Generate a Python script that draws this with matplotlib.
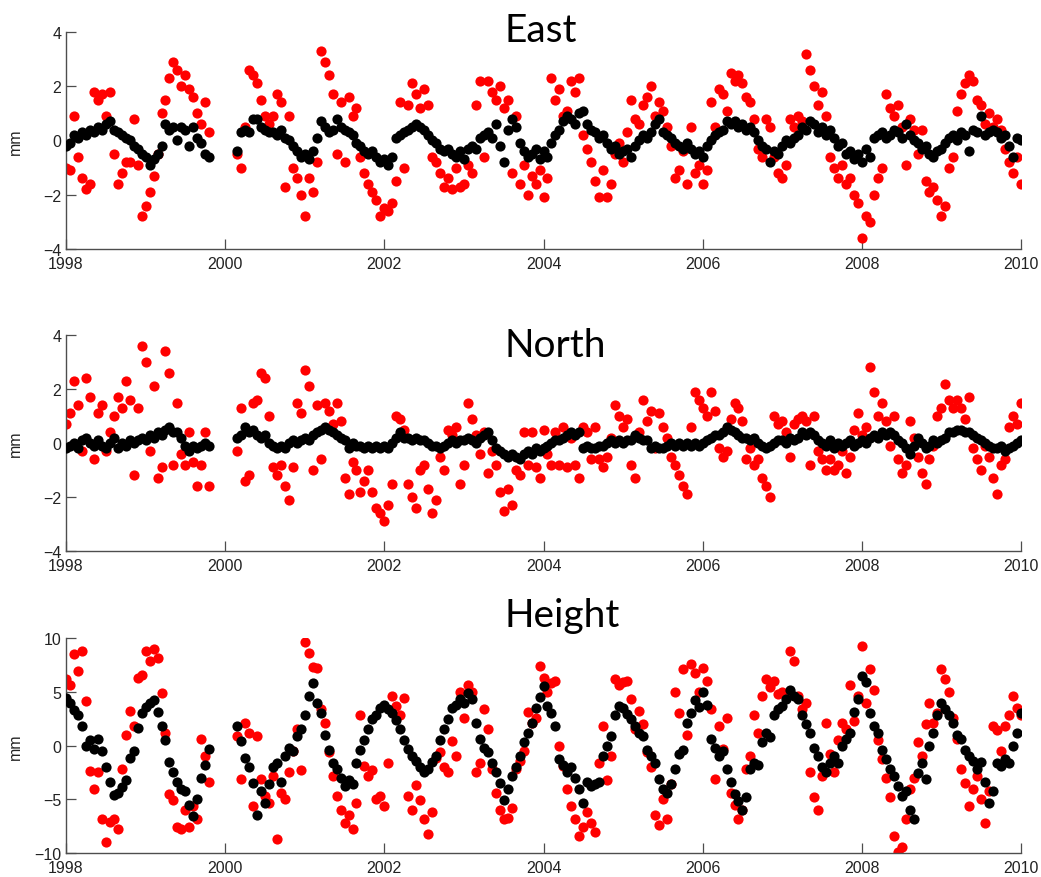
import matplotlib
matplotlib.use("Agg")
import matplotlib.pyplot as plt
import numpy as np

# sampling epochs in decimal years (no data between late 1999 and early 2000)
seg_a = np.round(np.arange(1998.00, 1999.80 + 1e-6, 0.05), 2)   # 37 epochs
seg_b = np.round(np.arange(2000.15, 2010.00 + 1e-6, 0.05), 2)   # 198 epochs
t = np.concatenate([seg_a, seg_b])

# ---------------- East (mm) ----------------
east_red = [
    -1.0, -1.1, 0.9, -0.6, -1.4, -1.8, -1.6, 1.8, 1.5, 1.7, 0.9, 1.8, -0.5, -1.6, -1.2, -0.8, -0.8, 0.8, -0.9, -2.8,
    -2.4, -1.9, -1.3, -0.5, 1.0, 1.5, 2.3, 2.9, 2.6, 2.0, 2.4, 1.9, 1.6, 1.0, 0.6, 1.4, 0.3,
    # 2000.15 ->
    -0.5, -1.0, 0.5, 2.6, 2.4, 2.1, 1.5, 0.9, 0.6, 0.9, 1.7, 1.4, -1.7, 0.9, -1.0, -1.4, -2.0,
    -2.8, -1.4, -1.9, -0.8, 3.3, 2.9, 2.4, 1.7, -0.5, 1.4, -0.8, 1.6, 0.9, 1.2, -0.6, -1.2, -1.6, -1.9, -2.2, -2.8,
    -2.5, -2.6, -2.3, -1.5, 1.4, -1.0, 1.3, 2.1, 1.7, 1.2, 1.9, 1.3, -0.6, -0.8, -1.2, -1.7, -1.4, -1.8, -1.0, -1.7,
    -1.6, -0.9, -1.2, 1.3, 2.2, -0.6, 2.2, 1.8, 1.5, 2.0, 1.2, 1.5, -1.2, 0.9, -1.6, -0.9, -2.0, -1.3, -1.6, -1.1,
    -2.1, -1.4, 2.3, 1.5, 1.9, 0.9, 1.1, 2.2, 1.8, 2.3, 0.2, -0.3, -0.8, -1.5, -2.1, -1.1, -2.1, -1.6, -0.5, -0.1,
    -0.8, 0.3, 1.5, 0.8, 0.6, 1.3, 1.6, 2.0, 0.9, 1.4, 1.1, 0.5, -0.2, -1.4, -1.1, -0.4, -1.6, 0.5, -1.2, -0.9,
    -1.6, -1.1, 1.4, 0.5, 1.9, 1.7, 1.1, 2.5, 2.2, 2.4, 2.1, 1.6, 1.4, 0.8, -0.3, -0.6, 0.8, 0.5, -0.6, -1.2,
    -1.4, -0.9, 0.8, 0.5, 0.9, 0.7, 3.2, 2.6, 2.0, 1.3, 1.8, 0.9, -0.6, -1.0, -1.4, -0.9, -1.6, -1.4, -2.0, -2.3,
    -3.6, -2.8, -3.0, -2.0, -1.4, -1.0, 1.7, 1.2, 0.9, 1.3, 0.5, -0.9, 0.8, 0.4, -0.5, 0.4, -1.5, -1.9, -1.7, -2.2,
    -2.8, -2.4, -1.0, -0.6, 1.1, 1.7, 2.1, 2.4, 2.2, 1.5, 1.3, 0.6, 1.0, 0.5, 0.8, 0.4, -0.3, -0.8, -1.2, -0.6,
    -1.6,
]
east_black = [
    -0.2, -0.1, 0.2, 0.1, 0.3, 0.2, 0.4, 0.3, 0.5, 0.4, 0.6, 0.7, 0.4, 0.3, 0.2, 0.1, 0.0, -0.2, -0.3, -0.5,
    -0.6, -0.9, -0.7, -0.5, -0.2, 0.6, 0.4, 0.5, 0.0, 0.5, 0.4, -0.2, 0.5, 0.1, -0.1, -0.5, -0.6,
    # 2000.15 ->
    -0.4, 0.3, 0.4, 0.3, 0.8, 0.8, 0.5, 0.4, 0.3, 0.3, 0.2, 0.4, 0.1, 0.0, -0.2, -0.4, -0.6,
    -0.5, -0.7, -0.4, 0.1, 0.7, 0.5, 0.3, 0.4, 0.8, 0.5, 0.4, 0.3, 0.2, -0.1, -0.2, -0.4, -0.5, -0.4, -0.6, -0.8,
    -0.7, -0.9, -0.6, 0.1, 0.2, 0.3, 0.4, 0.5, 0.6, 0.5, 0.4, 0.2, 0.0, -0.1, -0.3, -0.4, -0.3, -0.5, -0.6, -0.4,
    -0.7, -0.3, -0.2, -0.3, 0.1, 0.2, 0.3, 0.1, 0.6, -0.2, -0.8, 0.4, 0.8, 0.5, -0.1, -0.4, -0.6, -0.5, -0.3, -0.7,
    -0.4, -0.6, -0.1, 0.2, 0.4, 0.7, 0.9, 0.8, 0.6, 1.0, 1.1, 0.6, 0.4, 0.3, 0.1, 0.2, -0.1, -0.3, -0.2, -0.5,
    -0.4, -0.3, -0.6, -0.2, 0.0, 0.2, 0.1, 0.3, 0.6, 0.8, 0.3, 0.2, 0.1, -0.1, -0.2, -0.3, -0.1, -0.3, -0.5, -0.4,
    -0.6, -0.2, 0.0, 0.2, 0.3, 0.4, 0.7, 0.6, 0.7, 0.5, 0.6, 0.4, 0.5, 0.3, 0.0, -0.2, -0.3, -0.8, -0.4, -0.5,
    -0.2, 0.0, -0.1, 0.1, 0.2, 0.5, 0.4, 0.7, 0.6, 0.3, 0.5, 0.2, 0.4, 0.1, -0.2, -0.1, -0.5, -0.4, -0.7, -0.5,
    -0.8, -0.3, -0.6, 0.1, 0.2, 0.3, 0.1, 0.2, 0.4, 0.3, 0.1, 0.6, 0.2, 0.0, -0.1, -0.3, -0.2, -0.5, -0.6, -0.4,
    -0.3, -0.1, 0.1, 0.2, 0.0, 0.3, 0.2, -0.4, 0.4, 0.3, 0.9, 0.2, 0.3, 0.4, 0.3, 0.1, 0.2, -0.2, -0.6, 0.1,
    0.0,
]

# ---------------- North (mm) ----------------
north_red = [
    0.7, 1.1, 2.3, 1.4, -0.3, 2.4, 1.7, -0.6, 1.1, 1.4, -0.3, 0.4, 1.0, 1.7, 1.3, 2.3, 1.6, -1.2, 1.3, 3.6,
    3.0, -0.3, 2.1, -1.3, -0.9, 3.4, 2.6, -0.8, 1.5, -0.4, -0.8, 0.4, -0.7, -1.6, -0.8, 0.4, -1.6,
    # 2000.15 ->
    -0.3, 1.3, -1.4, -1.2, 1.5, 1.6, 2.6, 2.4, 1.0, -0.9, -1.2, -0.8, -1.6, -2.1, -0.9, 1.5, 1.1,
    2.7, 2.1, -1.0, 1.4, -0.6, 1.5, 1.2, 0.7, 1.5, 0.8, -1.3, -1.9, -0.7, -1.0, -1.8, -1.4, -1.0, -1.8, -2.4, -2.6,
    -2.9, -2.3, -1.5, 1.0, 0.9, 0.5, -1.5, -2.0, -2.4, -1.0, -0.8, -1.7, -2.6, -2.1, -0.5, -1.0, 0.5, 0.3, 0.6, -1.5,
    -0.8, 1.5, 0.9, 0.3, -0.4, 0.4, -1.1, -0.3, -0.8, -1.8, -2.5, -1.7, -2.3, -1.0, -1.2, 0.4, -0.8, 0.4, -0.9, -1.3,
    0.5, -0.4, -0.8, 0.4, -0.8, 0.6, -0.9, 0.2, -0.8, -1.3, 0.6, 0.4, -0.6, 0.6, -0.6, -0.9, -0.5, 0.2, 1.4, 1.0,
    0.6, 0.9, -0.8, -1.3, 0.4, 1.6, 0.8, 1.2, -0.2, 1.1, 0.6, 0.2, -0.5, -0.8, -1.2, -1.6, -1.9, 0.6, 1.9, 1.6,
    1.3, 1.0, 1.9, 1.2, -0.2, -0.5, -0.3, 0.9, 1.5, 1.3, 0.8, -0.6, -0.2, -0.8, -0.6, -1.3, -1.6, -2.0, 1.0, 0.7,
    0.8, 0.4, -0.5, 0.7, 0.9, 1.0, 0.8, -0.8, 1.0, -0.3, -0.6, -1.0, -0.6, -1.0, -0.8, -0.3, -1.1, -0.5, 0.5, 1.1,
    0.3, 0.6, 2.8, 1.9, 1.0, 1.5, 0.8, -0.1, 1.0, -0.6, -1.1, -0.8, 0.8, 0.2, -0.5, -1.1, -1.5, -0.6, -0.1, 1.0,
    1.3, 2.2, 1.6, 1.3, 1.6, 1.3, 0.9, 1.7, -0.2, -0.6, -1.0, -0.1, -0.5, -1.3, -1.9, -0.8, -0.6, 0.6, 1.0, 0.7,
    1.5,
]
north_black = [
    -0.2, -0.1, 0.0, -0.2, 0.1, 0.2, 0.0, -0.1, 0.1, -0.1, -0.2, 0.0, 0.2, -0.2, 0.0, -0.1, 0.1, 0.0, 0.1, 0.2,
    0.1, 0.3, 0.2, 0.4, 0.3, 0.5, 0.6, 0.4, 0.4, 0.2, -0.1, -0.3, -0.1, -0.2, -0.1, 0.0, -0.1,
    # 2000.15 ->
    0.2, 0.3, 0.6, 0.4, 0.5, 0.3, 0.2, 0.3, 0.0, -0.1, -0.2, -0.1, -0.2, 0.0, 0.1, 0.0, 0.1,
    0.2, 0.1, 0.3, 0.4, 0.5, 0.6, 0.5, 0.4, 0.3, 0.2, 0.1, -0.2, 0.0, -0.1, -0.1, -0.2, -0.1, -0.2, -0.1, -0.2,
    -0.1, -0.2, 0.0, 0.2, 0.4, 0.2, 0.2, 0.1, 0.2, 0.1, 0.1, 0.0, -0.1, -0.1, -0.2, -0.1, 0.0, 0.1, 0.0, 0.1,
    0.1, 0.2, 0.1, 0.0, 0.2, 0.3, 0.4, 0.1, -0.2, -0.3, -0.4, -0.5, -0.4, -0.5, -0.6, -0.4, -0.3, -0.4, -0.2, -0.3,
    -0.2, -0.1, 0.0, 0.1, 0.1, 0.2, 0.3, 0.4, 0.3, 0.4, -0.2, -0.1, -0.2, -0.2, -0.1, -0.1, 0.0, 0.1, 0.0, 0.1,
    0.0, 0.1, 0.1, 0.3, 0.2, 0.1, 0.1, -0.2, -0.1, -0.2, -0.2, -0.1, 0.0, -0.1, 0.0, -0.1, 0.0, -0.1, 0.0, -0.1,
    0.0, 0.1, 0.2, 0.3, 0.3, 0.4, 0.6, 0.5, 0.4, 0.3, 0.2, 0.2, 0.1, 0.2, 0.0, -0.1, -0.2, -0.1, 0.0, 0.1,
    0.1, 0.0, 0.2, 0.1, 0.2, 0.4, 0.3, 0.4, 0.3, 0.1, 0.0, -0.1, 0.1, -0.2, 0.0, -0.1, 0.0, 0.1, -0.1, 0.0,
    0.1, 0.0, 0.2, 0.3, 0.2, 0.4, 0.3, 0.4, 0.3, 0.1, 0.0, -0.2, -0.4, -0.1, 0.2, 0.0, -0.2, -0.1, 0.1, 0.0,
    0.1, 0.2, 0.4, 0.4, 0.5, 0.5, 0.4, 0.4, 0.3, 0.2, 0.1, 0.0, -0.1, -0.2, -0.2, -0.1, -0.3, -0.2, -0.1, 0.0,
    0.1,
]

# ---------------- Height (mm) ----------------
height_red = [
    6.2, 5.6, 8.5, 6.9, 8.8, 4.1, -2.4, -4.0, -2.5, -6.8, -9.0, -7.1, -6.8, -7.8, -2.2, 1.0, 3.2, 1.8, 6.3, 6.6,
    8.8, 7.9, 9.0, 8.1, 4.9, 1.2, -4.5, -5.1, -7.6, -7.8, -6.0, -7.6, -5.6, -6.8, 0.6, -1.0, -3.4,
    # 2000.15 ->
    0.9, -3.1, 2.1, 1.2, -5.6, 0.9, -3.1, -4.7, -5.3, -2.8, -8.7, -4.4, -5.0, -2.5, -0.5, 1.5, -2.3,
    9.6, 8.6, 7.3, 7.2, 3.4, 2.1, -0.6, -2.8, -4.7, -6.0, -7.2, -6.5, -7.8, -5.3, 2.8, -1.9, -2.8, -2.3, -5.0, -4.7,
    -5.6, -1.6, 4.6, 3.7, 2.8, 4.4, -4.7, -6.0, -3.7, -5.1, -6.8, -8.2, -6.2, -1.2, -0.6, -2.0, -2.5, 0.4, -1.0, 5.0,
    2.6, 5.6, 5.0, -2.5, -1.6, 3.4, 1.5, -2.2, -4.4, -6.0, -6.8, -6.7, -5.8, -2.2, -1.4, -0.5, 3.1, 2.1, 2.6, 7.4,
    6.3, 5.0, 5.8, 6.0, 0.0, -1.9, -4.0, -5.6, -6.8, -8.4, -7.6, -6.2, -7.2, -8.0, -1.6, 1.8, -3.2, -1.0, 6.2, 5.6,
    5.9, 6.0, 4.3, 1.5, 3.2, 2.0, -0.6, -2.0, -6.5, -7.4, -5.0, -6.8, -3.6, 5.0, 3.0, 7.1, 1.0, 7.6, 6.7, 5.0,
    7.2, 6.0, 3.4, -3.1, 1.8, -0.3, 2.6, -4.4, -5.5, -6.8, -6.0, -2.2, -1.0, 2.8, 1.2, 4.6, 6.2, 5.4, 6.0, 4.8,
    5.0, 4.6, 8.8, 7.9, 4.6, 3.4, 4.0, -2.5, -4.8, -6.0, -2.8, 2.1, -0.8, -2.5, 0.5, 2.1, 1.5, 5.6, 2.3, 4.6,
    9.3, 4.0, 7.1, 5.2, 0.5, -1.3, -3.0, -4.8, -8.4, -9.9, -9.4, -6.8, -4.0, -3.0, 0.3, -1.0, 2.0, 4.0, 2.1, 3.0,
    7.1, 6.2, 5.0, 2.6, 0.6, -2.2, -3.5, -5.6, -4.0, -2.8, -5.0, -7.2, -4.2, 1.8, 1.4, -0.5, 1.8, 2.8, 4.6, 3.5,
    2.8,
]
height_black = [
    4.4, 4.0, 3.3, 2.8, 1.8, 0.0, 0.5, -0.3, 0.6, -0.5, -2.0, -3.4, -4.6, -4.4, -3.9, -3.2, -1.2, -0.5, 1.6, 3.0,
    3.6, 4.0, 4.2, 3.1, 1.8, 0.5, -1.5, -2.5, -3.4, -4.0, -4.2, -5.5, -6.6, -5.0, -3.0, -1.8, -0.3,
    # 2000.15 ->
    1.8, 0.4, -1.2, -2.0, -3.5, -6.5, -4.2, -5.3, -3.6, -2.0, -1.6, -3.4, -1.0, -0.2, -0.5, 0.9, 1.5,
    2.8, 4.6, 5.8, 4.0, 3.0, 1.0, -0.4, -1.6, -2.2, -3.0, -3.8, -3.2, -3.6, -1.6, -0.4, 0.5, 1.5, 2.5, 2.8, 3.5,
    3.8, 3.4, 3.0, 2.4, 1.5, 0.5, -0.3, -1.0, -1.4, -2.0, -2.5, -2.2, -1.5, -1.0, 0.5, 1.5, 2.5, 3.5, 3.8, 4.3,
    4.0, 4.9, 4.3, 2.1, 0.6, -0.2, -0.6, -1.6, -2.5, -3.5, -5.1, -4.0, -2.8, -2.0, -1.0, 0.3, 1.2, 2.1, 3.5, 4.5,
    5.5, 3.7, 3.0, 1.8, -1.3, -1.8, -2.5, -2.0, -3.0, -4.0, -5.3, -3.4, -3.8, -3.6, -3.4, -1.0, 0.0, 0.9, 2.8, 3.7,
    3.5, 2.9, 2.5, 1.8, 1.2, 0.9, -0.4, -1.0, -1.6, -3.1, -4.0, -4.4, -3.6, -2.2, -0.8, -0.4, 2.1, 3.0, 4.2, 3.6,
    5.0, 3.8, 0.6, -0.2, -1.0, -0.5, -2.2, -3.4, -4.5, -5.2, -6.0, -4.8, -2.2, -1.6, -1.8, 0.3, 1.2, 0.8, 2.8, 3.4,
    3.7, 4.3, 5.2, 4.6, 4.3, 2.8, 2.0, 1.2, -0.2, -1.0, -2.0, -2.5, -1.6, -1.0, -1.6, 0.0, 0.6, 1.2, 3.1, 4.3,
    6.5, 5.9, 3.0, 1.8, 1.2, -0.4, -1.3, -2.2, -2.8, -3.8, -4.7, -4.2, -6.0, -6.8, -2.6, -1.6, -3.1, 0.0, 1.2, 2.8,
    4.0, 3.4, 2.8, 2.1, 1.0, 0.6, -0.4, -1.0, -1.4, -2.2, -1.5, -3.4, -5.3, -4.2, -1.6, -1.9, -1.3, -1.6, 0.0, 1.2,
    3.0,
]

panels = [
    ("East", east_red, east_black, [-4, -2, 0, 2, 4]),
    ("North", north_red, north_black, [-4, -2, 0, 2, 4]),
    ("Height", height_red, height_black, [-10, -5, 0, 5, 10]),
]
for name, r, b, yt in panels:
    assert len(r) == len(t) and len(b) == len(t), name

fig = plt.figure(figsize=(10.41, 8.78), dpi=100)
boxes = [
    [0.0634, 0.7153, 0.9174, 0.2472],
    [0.0634, 0.3713, 0.9174, 0.2460],
    [0.0634, 0.0273, 0.9174, 0.2449],
]
title_y = [0.952, 0.5934, 0.2859]

for (name, red, black, yt), box, ty in zip(panels, boxes, title_y):
    ax = fig.add_axes(box)
    ax.scatter(t, red, s=54, c="#ff0000", marker="o", linewidths=0, zorder=2)
    ax.scatter(t, black, s=54, c="#000000", marker="o", linewidths=0, zorder=3)
    ax.set_xlim(1998, 2010)
    ax.set_ylim(yt[0], yt[-1])
    ax.set_xticks(range(1998, 2011, 2))
    ax.set_yticks(yt)
    for side in ["top", "right"]:
        ax.spines[side].set_visible(False)
    for side in ["left", "bottom"]:
        ax.spines[side].set_color("#4d4d4d")
        ax.spines[side].set_linewidth(1.0)
    ax.tick_params(direction="in", length=7, width=0.9, color="#4d4d4d",
                   labelcolor="#222222", labelsize=11.5)
    ax.tick_params(axis="x", pad=5)
    for lab in ax.get_xticklabels() + ax.get_yticklabels():
        lab.set_family("Liberation Sans")
    ax.set_ylabel("mm", fontsize=11.5, family="Liberation Sans", color="#222222")
    ax.yaxis.set_label_coords(-0.045, 0.5)
    ax.set_facecolor("none")
    fig.text(0.485, ty, name, fontsize=28, family="Lato", ha="left", va="baseline", color="black")

fig.savefig("out.png", dpi=100)
